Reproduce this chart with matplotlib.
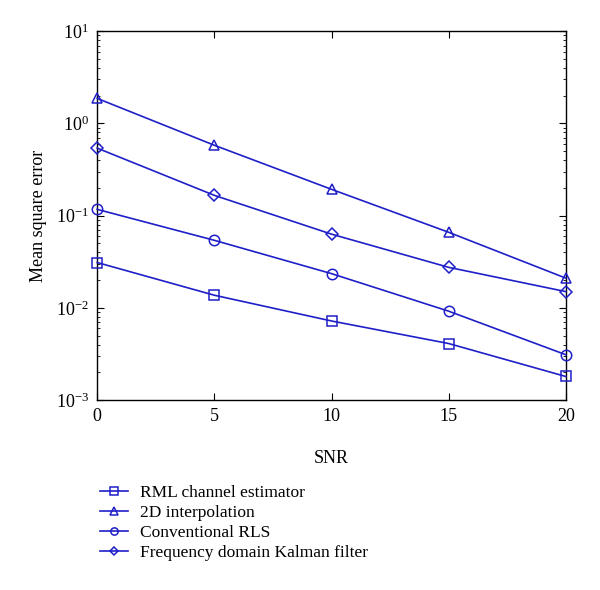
import matplotlib.pyplot as plt
from matplotlib.ticker import LogLocator, NullFormatter

snr = [0, 5, 10, 15, 20]
rml = [0.031, 0.0137, 0.0072, 0.0041, 0.0018]
interp2d = [1.87, 0.58, 0.193, 0.066, 0.021]
rls = [0.117, 0.054, 0.0235, 0.0092, 0.0031]
kalman = [0.54, 0.166, 0.063, 0.0275, 0.015]

series = [
    ("RML channel estimator", rml, "s"),
    ("2D interpolation", interp2d, "^"),
    ("Conventional RLS", rls, "o"),
    ("Frequency domain Kalman filter", kalman, "D"),
]
COLOR = "#1f1fc8"

plt.rcParams.update({
    "font.family": ["Liberation Serif", "DejaVu Serif"],
    "font.size": 12,
    "mathtext.fontset": "stix",
})

fig = plt.figure(figsize=(6.0, 5.9), dpi=100)
ax = fig.add_axes([0.162, 0.322, 0.781, 0.625])

for label, vals, mk in series:
    ms = 6 if mk == "D" else 7.5
    ax.plot(snr, vals, color=COLOR, lw=1.2, marker=mk, ms=ms,
            mfc="none", mec=COLOR, mew=1.1, label=label, clip_on=False,
            zorder=3)

ax.set_yscale("log")
ax.set_xlim(0, 20)
ax.set_ylim(1e-3, 1e1)
ax.set_xticks([0, 5, 10, 15, 20])
ax.yaxis.set_minor_locator(LogLocator(base=10, subs=range(2, 10)))
ax.yaxis.set_minor_formatter(NullFormatter())
ax.tick_params(which="both", direction="in", top=True, right=True)
ax.tick_params(which="major", length=5, labelsize=13, pad=6)
ax.tick_params(which="minor", length=2.5)
ax.set_xlabel("SNR", fontsize=13, labelpad=18)
ax.set_ylabel("Mean square error", fontsize=13, labelpad=6)
for s in ax.spines.values():
    s.set_linewidth(1.0)

fig.legend(loc="upper left", bbox_to_anchor=(0.155, 0.19), frameon=False,
           fontsize=12.5, handlelength=1.6, handletextpad=0.7,
           labelspacing=0.22, markerscale=0.7, borderaxespad=0)

fig.savefig("out.png", dpi=100)
